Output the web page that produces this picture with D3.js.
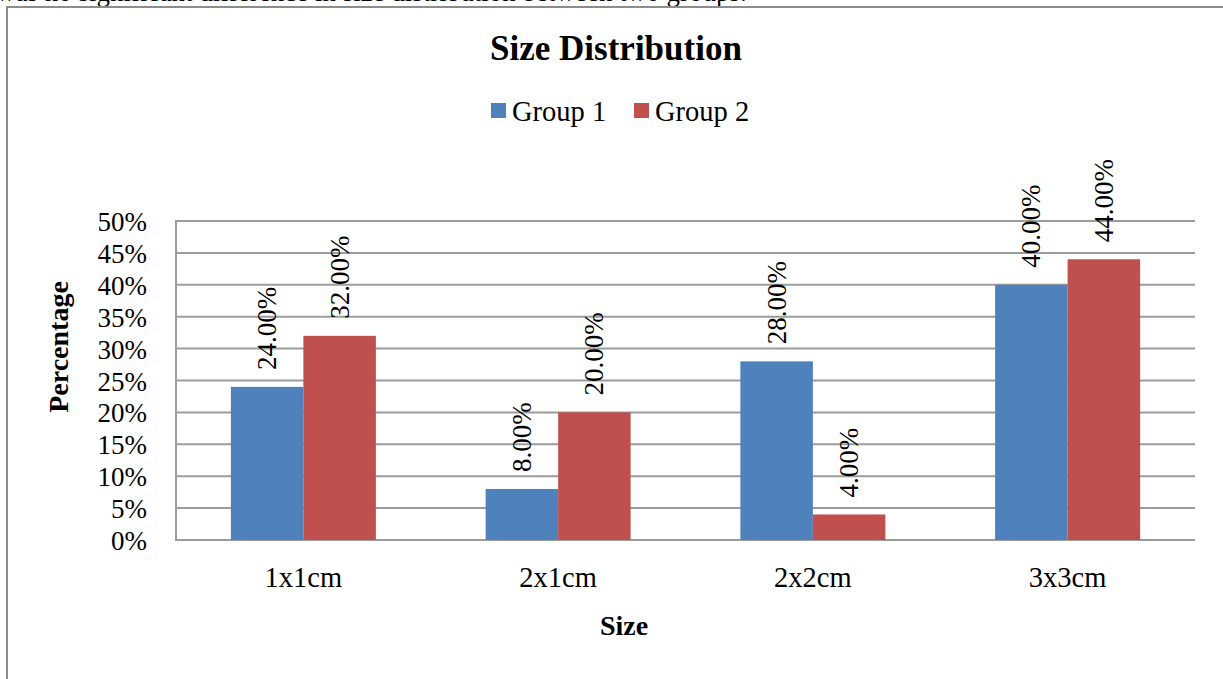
<!DOCTYPE html>
<html>
<head>
<meta charset="utf-8">
<script src="https://cdn.jsdelivr.net/npm/d3@7"></script>
<style>
  html, body { margin: 0; padding: 0; background: #fff; }
  svg { display: block; }
  text { font-family: "Liberation Serif", "Times New Roman", serif; fill: #000; }
</style>
</head>
<body>
<svg id="chart" width="1223" height="679"></svg>
<script>
// Chart data
const categories = ["1x1cm", "2x1cm", "2x2cm", "3x3cm"];
const seriesNames = ["Group 1", "Group 2"];
const group1 = [24, 8, 28, 40];
const group2 = [32, 20, 4, 44];
const yTicks = [0, 5, 10, 15, 20, 25, 30, 35, 40, 45, 50];
const colors = ["#4f81bd", "#c0504d"];
const captionText = "was no significant difference in size distribution between two groups.";

const svg = d3.select("#chart");

// Paragraph line above the chart frame
svg.append("text")
  .attr("x", -4).attr("y", 1)
  .attr("font-size", 27)
  .text(captionText);

// Chart frame
svg.append("rect")
  .attr("x", 7).attr("y", 7)
  .attr("width", 1240).attr("height", 700)
  .attr("fill", "none")
  .attr("stroke", "#8c8c8c")
  .attr("stroke-width", 2);

const plot = { left: 176, right: 1195, top: 221, bottom: 540 };

const x0 = d3.scaleBand().domain(categories).range([plot.left, plot.right]).padding(0);
const barW = 72.5;
const x1 = d3.scaleBand().domain(seriesNames)
  .range([-barW, barW]).padding(0);
const y = d3.scaleLinear().domain([0, 50]).range([plot.bottom, plot.top]);

// Horizontal gridlines
svg.append("g").selectAll("line").data(yTicks).join("line")
  .attr("x1", plot.left).attr("x2", plot.right)
  .attr("y1", d => y(d)).attr("y2", d => y(d))
  .attr("stroke", "#9c9c9c").attr("stroke-width", 2);

// Y axis line
svg.append("line")
  .attr("x1", plot.left).attr("x2", plot.left)
  .attr("y1", plot.top - 1).attr("y2", plot.bottom + 1)
  .attr("stroke", "#9c9c9c").attr("stroke-width", 2);

// Y tick labels
svg.append("g").selectAll("text").data(yTicks).join("text")
  .attr("x", 147).attr("y", d => y(d) + 10)
  .attr("text-anchor", "end")
  .attr("font-size", 27)
  .text(d => d + "%");

// Bars
const series = [group1, group2];
const rows = [];
categories.forEach((c, i) => {
  seriesNames.forEach((s, j) => rows.push({ cat: c, name: s, v: series[j][i], j }));
});

svg.append("g").selectAll("rect").data(rows).join("rect")
  .attr("x", d => x0(d.cat) + x0.bandwidth() / 2 + x1(d.name))
  .attr("y", d => y(d.v))
  .attr("width", x1.bandwidth())
  .attr("height", d => y(0) - y(d.v))
  .attr("fill", d => colors[d.j]);

// Rotated value labels
svg.append("g").selectAll("text").data(rows).join("text")
  .attr("transform", d => {
    const cx = x0(d.cat) + x0.bandwidth() / 2 + x1(d.name) + x1.bandwidth() / 2 + 9;
    return `translate(${cx},${y(d.v) - 17}) rotate(-90)`;
  })
  .attr("font-size", 27)
  .text(d => d.v.toFixed(2) + "%");

// Category labels
svg.append("g").selectAll("text").data(categories).join("text")
  .attr("x", d => x0(d) + x0.bandwidth() / 2)
  .attr("y", 587)
  .attr("text-anchor", "middle")
  .attr("font-size", 28.5)
  .text(d => d);

// Title
svg.append("text")
  .attr("x", 616).attr("y", 60)
  .attr("text-anchor", "middle")
  .attr("font-size", 35).attr("font-weight", "bold")
  .text("Size Distribution");

// Legend
const legendX = [491, 634];
seriesNames.forEach((s, j) => {
  svg.append("rect")
    .attr("x", legendX[j]).attr("y", 103)
    .attr("width", 15).attr("height", 15)
    .attr("fill", colors[j]);
  svg.append("text")
    .attr("x", legendX[j] + 21).attr("y", 121)
    .attr("font-size", 28.5)
    .text(s);
});

// Axis titles
svg.append("text")
  .attr("transform", "translate(68,347) rotate(-90)")
  .attr("text-anchor", "middle")
  .attr("font-size", 28).attr("font-weight", "bold")
  .text("Percentage");

svg.append("text")
  .attr("x", 624).attr("y", 635)
  .attr("text-anchor", "middle")
  .attr("font-size", 28).attr("font-weight", "bold")
  .text("Size");
</script>
</body>
</html>
